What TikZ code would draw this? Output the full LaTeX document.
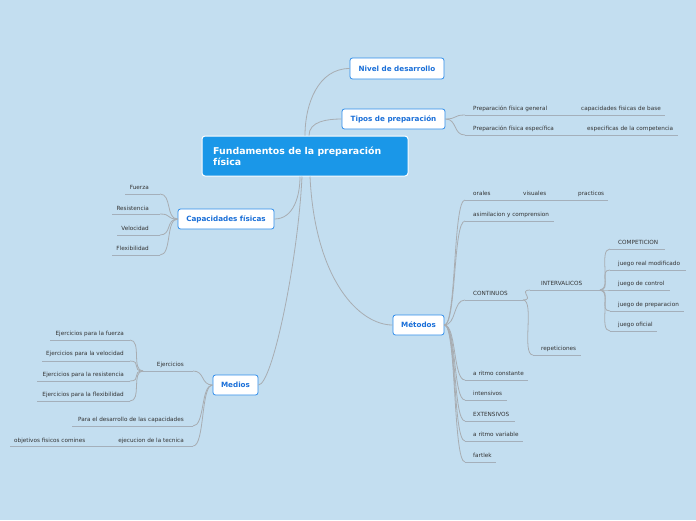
\documentclass[tikz,border=0pt]{standalone}
\usepackage{fontspec}
\setmainfont{DejaVu Sans}
\definecolor{bgc}{HTML}{C3DEF0}
\definecolor{mainfill}{HTML}{1A97E8}
\definecolor{boxborder}{HTML}{2F8DEB}
\definecolor{boxtext}{HTML}{1A6FD8}
\definecolor{conncol}{HTML}{A8ADB2}
\definecolor{ulcol}{HTML}{A4AFBA}
\definecolor{txt}{HTML}{333333}
\tikzset{
  conn/.style={draw=conncol, line width=0.8pt},
  uline/.style={draw=ulcol, line width=0.7pt},
  leaf/.style={font=\fontsize{5.7}{6.8}\selectfont, text=txt, inner sep=0pt,
    text height=4.2pt, text depth=1.2pt},
  topbox/.style={draw=boxborder, fill=white, rounded corners=2.5pt, line width=0.8pt,
    text=boxtext, font=\fontsize{7.2}{8.5}\selectfont\bfseries, inner sep=0pt},
  mainbox/.style={draw=white, fill=mainfill, rounded corners=3pt, line width=1pt, inner sep=0pt},
  sr/.style={out=0, in=180, distance=12pt},
  sl/.style={out=180, in=0, distance=12pt}
}
\begin{document}
\begin{tikzpicture}[x=1pt,y=-1pt]
\fill[bgc] (0,0) rectangle (696,520);
\useasboundingbox (0,0) rectangle (696,520);

% main and top-level boxes
\node[mainbox, minimum width=206pt, minimum height=40pt] (main) at (305,156) {};
\node[text=white, font=\fontsize{9.4}{11}\selectfont\bfseries, anchor=west, align=left, inner sep=0pt] (maintext) at (213,156) {Fundamentos de la preparación\\física};
\node[topbox, minimum width=94pt, minimum height=21pt] (niv) at (397,68.5) {Nivel de desarrollo};
\node[topbox, minimum width=103pt, minimum height=20pt] (tip) at (393.5,119) {Tipos de preparación};
\node[topbox, minimum width=96pt, minimum height=20pt] (cap) at (226,219) {Capacidades físicas};
\node[topbox, minimum width=51pt, minimum height=20pt] (met) at (418.5,325) {Métodos};
\node[topbox, minimum width=45pt, minimum height=20pt] (med) at (235.5,385) {Medios};

% main connectors
\draw[conn] (main.north) to[out=90,in=180] (niv.west);
\draw[conn] ([xshift=4pt]main.north) to[out=90,in=180] (tip.west);
\draw[conn] ([xshift=-5pt]main.south) to[out=-90,in=0] (cap.east);
\draw[conn] ([xshift=-3pt]main.south) .. controls ([xshift=-7pt,yshift=-84pt]main.south) and ([xshift=14pt]med.east) .. (med.east);
\draw[conn] ([xshift=5pt]main.south) .. controls ([xshift=10pt,yshift=-104pt]main.south) and ([xshift=-33pt]met.west) .. (met.west);

% Tipos de preparacion
\coordinate (ta1) at (465,115); \coordinate (tb1) at (665,115);
\coordinate (ta2) at (465,135); \coordinate (tb2) at (678,135);
\draw[uline] (ta1) -- (tb1);
\draw[uline] (ta2) -- (tb2);
\draw[conn] (tip.east) to[sr] (ta1);
\draw[conn] (tip.east) to[sr] (ta2);
\node[leaf, anchor=west] (pg) at (473,109) {Preparación física general};
\node[leaf, anchor=west] (cb) at (581,109) {capacidades fisicas de base};
\node[leaf, anchor=west] (pe) at (473,129) {Preparación física específica};
\node[leaf, anchor=west] (ec) at (587,129) {especificas de la competencia};

% Capacidades fisicas
\coordinate (ca1) at (125,194); \coordinate (cb1) at (160,194);
\coordinate (ca2) at (112,214); \coordinate (cb2) at (160,214);
\coordinate (ca3) at (117,235); \coordinate (cb3) at (160,235);
\coordinate (ca4) at (112,255); \coordinate (cb4) at (160,255);
\foreach \i in {1,2,3,4} {
  \draw[uline] (ca\i) -- (cb\i);
  \draw[conn] (cap.west) to[sl] (cb\i);
}
\node[leaf, anchor=east] (fu) at (149,188) {Fuerza};
\node[leaf, anchor=east] (re) at (149,209) {Resistencia};
\node[leaf, anchor=east] (ve) at (149,229) {Velocidad};
\node[leaf, anchor=east] (fl) at (149,249) {Flexibilidad};

% Metodos
\coordinate (ma1) at (465,200); \coordinate (mb1) at (608,200);
\coordinate (ma2) at (465,221); \coordinate (mb2) at (554,221);
\coordinate (ma3) at (465,300); \coordinate (mb3) at (523,300);
\coordinate (ma4) at (465,380); \coordinate (mb4) at (528,380);
\coordinate (ma5) at (465,400); \coordinate (mb5) at (507,400);
\coordinate (ma6) at (465,421); \coordinate (mb6) at (515,421);
\coordinate (ma7) at (465,441); \coordinate (mb7) at (523,441);
\coordinate (ma8) at (465,462); \coordinate (mb8) at (496,462);
\foreach \i in {1,...,8} {
  \draw[uline] (ma\i) -- (mb\i);
  \draw[conn] (met.east) to[sr] (ma\i);
}
\node[leaf, anchor=west] (or) at (473,194) {orales};
\node[leaf, anchor=west] (vi) at (523,194) {visuales};
\node[leaf, anchor=west] (pr) at (578,194) {practicos};
\node[leaf, anchor=west] (as) at (473,215) {asimilacion y comprension};
\node[leaf, anchor=west] (co) at (473,294) {CONTINUOS};
\node[leaf, anchor=west] (rc) at (473,374) {a ritmo constante};
\node[leaf, anchor=west] (in) at (473,394) {intensivos};
\node[leaf, anchor=west] (ex) at (473,415) {EXTENSIVOS};
\node[leaf, anchor=west] (rv) at (473,435) {a ritmo variable};
\node[leaf, anchor=west] (fa) at (473,456) {fartlek};

% CONTINUOS children
\coordinate (ia) at (530,290); \coordinate (ib) at (600,290);
\coordinate (ra) at (533,355); \coordinate (rb) at (581,355);
\draw[uline] (ia) -- (ib);
\draw[uline] (ra) -- (rb);
\draw[conn] (mb3) to[sr] (ia);
\draw[conn] (mb3) to[sr] (ra);
\node[leaf, anchor=west] (iv) at (541,284) {INTERVALICOS};
\node[leaf, anchor=west] (rp) at (541,349) {repeticiones};

% INTERVALICOS children
\coordinate (ja1) at (610,249); \coordinate (jb1) at (665,249);
\coordinate (ja2) at (610,270); \coordinate (jb2) at (686,270);
\coordinate (ja3) at (610,290); \coordinate (jb3) at (670,290);
\coordinate (ja4) at (610,311); \coordinate (jb4) at (684,311);
\coordinate (ja5) at (610,331); \coordinate (jb5) at (657,331);
\foreach \i in {1,...,5} {
  \draw[uline] (ja\i) -- (jb\i);
  \draw[conn] (ib) to[sr] (ja\i);
}
\node[leaf, anchor=west] (cp) at (618,243) {COMPETICION};
\node[leaf, anchor=west] (jr) at (618,264) {juego real modificado};
\node[leaf, anchor=west] (jc) at (618,284) {juego de control};
\node[leaf, anchor=west] (jp) at (618,305) {juego de preparacion};
\node[leaf, anchor=west] (jo) at (618,325) {juego oficial};

% Medios
\coordinate (ea) at (143,371); \coordinate (eb) at (193,371);
\coordinate (da) at (72,426);  \coordinate (db) at (193,426);
\coordinate (xa) at (110,446); \coordinate (xb) at (193,446);
\coordinate (oa) at (10,446);
\draw[uline] (ea) -- (eb);
\draw[uline] (da) -- (db);
\draw[uline] (oa) -- (xb);
\draw[conn] (med.west) to[sl] (eb);
\draw[conn] (med.west) to[sl] (db);
\draw[conn] (med.west) to[sl] (xb);
\node[leaf, anchor=east] (ej) at (184,365) {Ejercicios};
\node[leaf, anchor=east] (pd) at (184,420) {Para el desarrollo de las capacidades};
\node[leaf, anchor=east] (et) at (184,441) {ejecucion de la tecnica};
\node[leaf, anchor=west] (ob) at (14,441) {objetivos fisicos comines};

% Ejercicios children
\coordinate (ka1) at (50,340);  \coordinate (kb1) at (130,340);
\coordinate (ka2) at (42,361);  \coordinate (kb2) at (130,361);
\coordinate (ka3) at (37,381);  \coordinate (kb3) at (130,381);
\coordinate (ka4) at (37,401);  \coordinate (kb4) at (130,401);
\foreach \i in {1,2,3,4} {
  \draw[uline] (ka\i) -- (kb\i);
  \draw[conn] (ea) to[sl] (kb\i);
}
\node[leaf, anchor=east] (ef) at (124,334) {Ejercicios para la fuerza};
\node[leaf, anchor=east] (evl) at (124,354) {Ejercicios para la velocidad};
\node[leaf, anchor=east] (er) at (124,375) {Ejercicios para la resistencia};
\node[leaf, anchor=east] (efl) at (124,395) {Ejercicios para la flexibilidad};
\end{tikzpicture}
\end{document}
